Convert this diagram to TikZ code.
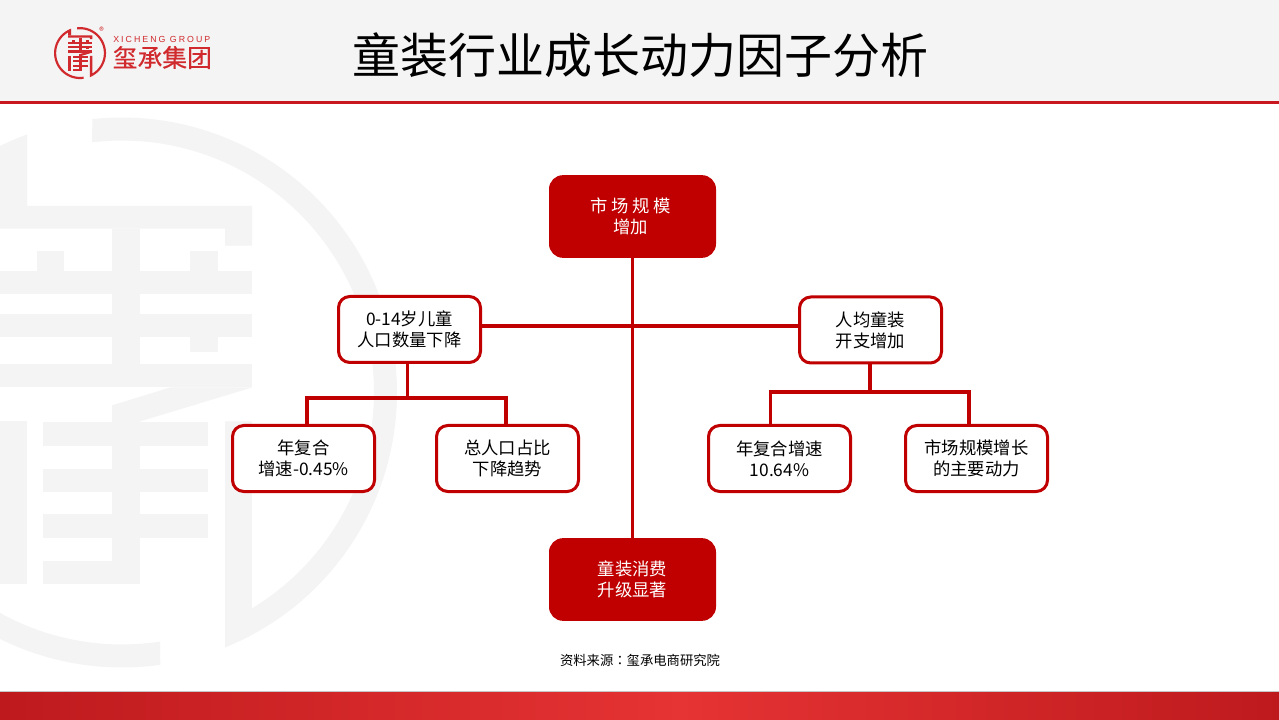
\documentclass[tikz,border=0pt]{standalone}
\usepackage{fontspec}
\setmainfont{Noto Sans CJK SC}
\newfontfamily\logolat[LetterSpace=23]{Liberation Sans}
\newfontfamily\logocjk[FakeBold=0.5]{Noto Sans CJK SC}
\newfontfamily\colonfont{Noto Sans CJK TC}
\usetikzlibrary{calc}
\definecolor{brandred}{HTML}{C00000}
\definecolor{wmgray}{HTML}{F4F4F4}
\definecolor{logored}{HTML}{D12A2E}
\definecolor{rulered}{HTML}{C8171E}
\definecolor{footdark}{HTML}{BE1A1E}
\definecolor{footlight}{HTML}{E63333}
\newcommand\xcemblem[1]{%
  \fill[#1] plot[domain=-96.2:68,samples=90] ({122+275*cos(\x)},{392.5+275*sin(\x)})
    -- (225,421.4) -- (252,421.4)
    -- plot[domain=59:-96.8,samples=90] ({122+252*cos(\x)},{392.5+252*sin(\x)}) -- cycle;
  \fill[#1] plot[domain=82:249.8,samples=90] ({122+275*cos(\x)},{392.5+275*sin(\x)})
    -- (27,206) -- (-5,206)
    -- plot[domain=239.8:81.3,samples=90] ({122+252*cos(\x)},{392.5+252*sin(\x)}) -- cycle;
  \fill[#1] (-5,206) -- (252,206) -- (252,245.7) -- (225,245.7) -- (225,228.6) -- (-5,228.6) -- cycle;
  \fill[#1] (112,228.6) rectangle (140,364.3);
  \fill[#1] (-5,271.4) rectangle (252,294);
  \fill[#1] (37,250.7) rectangle (64,271.4);
  \fill[#1] (190,250.7) rectangle (218,271.4);
  \fill[#1] (-5,313.6) rectangle (252,336.8);
  \fill[#1] (190,336.8) rectangle (218,352.5);
  \fill[#1] (-5,364.3) rectangle (252,387.5);
  \fill[#1] (170,387.5) -- (252,387.5) -- (140,421.4) -- (112,421.4) -- (112,405.4) -- cycle;
  \fill[#1] (112,405.4) rectangle (140,584);
  \fill[#1] (43,422.5) rectangle (208,445.7);
  \fill[#1] (43,469) rectangle (208,492);
  \fill[#1] (43,514) rectangle (208,537.5);
  \fill[#1] (43,560.7) rectangle (140,584);
  \fill[#1] (-5,421.4) rectangle (27,584);
}
\tikzset{
  x=0.75pt,y=-0.75pt,
  solidbox/.style={fill=brandred,rounded corners=10.5pt,minimum width=125.25pt,minimum height=62pt,inner sep=0pt,
    text=white,align=center,font=\fontsize{13}{15.6}\selectfont},
  linebox/.style={draw=brandred,line width=2.25pt,fill=white,rounded corners=8.5pt,minimum width=106.5pt,minimum height=49.5pt,inner sep=0pt,
    text=black,align=center,font=\fontsize{13}{15.6}\selectfont},
  link/.style={draw=brandred,line width=2.4pt},
  headline/.style={font=\fontsize{36}{40}\selectfont,text=black,inner sep=0pt},
  srcnote/.style={font=\fontsize{10}{12}\selectfont,text=black,inner sep=0pt},
}
\begin{document}
\begin{tikzpicture}
\useasboundingbox (0,0) rectangle (1279,720);
\fill[white] (0,0) rectangle (1279,720);
% watermark
\begin{scope}
\clip (0,103) rectangle (1279,692);
\xcemblem{wmgray}
\end{scope}
% header
\fill[wmgray] (0,0) rectangle (1279,101);
\fill[rulered] (0,100.7) rectangle (1279,103.7);
% footer
\fill[gray!45] (0,691) rectangle (1279,692);
\fill[left color=footdark,right color=footlight] (0,692) rectangle (680,720);
\fill[left color=footlight,right color=footdark] (680,692) rectangle (1279,720);
% logo
\begin{scope}[shift={(68.5,16)},scale=0.0945]
\xcemblem{logored}
\end{scope}
\node[text=logored,inner sep=0pt,font=\fontsize{7}{8}\selectfont] (regmark) at (101.5,30.5) {®};
\node[text=logored,inner sep=0pt,anchor=west,font=\logolat\fontsize{6.6}{8}\selectfont] (logoen) at (113,39) {XICHENG GROUP};
\node[text=logored,inner sep=0pt,anchor=west,font=\logocjk\fontsize{18.6}{20}\selectfont] (logocn) at (112.5,57.5) {玺承集团};
% title
\node[headline] (title) at (640.5,55) {童装行业成长动力因子分析};
% nodes
\node[solidbox] (top) at (632.5,216.5) {市 场 规 模\hspace*{3pt}\\增加\hspace*{3pt}};
\node[solidbox] (bottom) at (632.5,579.5) {童装消费\\升级显著};
\node[linebox] (lmid) at (409.5,329.5) {0-14岁儿童\\人口数量下降};
\node[linebox] (rmid) at (870.5,330) {人均童装\\开支增加};
\node[linebox] (la) at (303.5,458.5) {年复合\\增速-0.45\%};
\node[linebox] (lb) at (507.5,458.5) {总人口占比\\下降趋势};
\node[linebox] (ra) at (779.5,458.5) {年复合增速\\10.64\%};
\node[linebox] (rb) at (976.5,458.5) {市场规模增长\\的主要动力};
\node[srcnote] (src) at (640,660) {资料来源{\colonfont：}玺承电商研究院};
% connector anchors
\coordinate (hy) at (0,326);
\coordinate (lj) at (407.7,398);
\coordinate (la1) at (307,398);
\coordinate (lb1) at (506,398);
\coordinate (rj) at (870,392);
\coordinate (ra1) at (770.7,392);
\coordinate (rb1) at (969,392);
% connectors
\draw[link] (top.south) -- (bottom.north);
\draw[link] (lmid.east |- hy) -- (rmid.west |- hy);
\draw[link] (lmid.south -| lj) -- (lj);
\draw[link,line cap=rect] (la1) -- (lb1);
\draw[link] (la1) -- (la.north -| la1);
\draw[link] (lb1) -- (lb.north -| lb1);
\draw[link] (rmid.south -| rj) -- (rj);
\draw[link,line cap=rect] (ra1) -- (rb1);
\draw[link] (ra1) -- (ra.north -| ra1);
\draw[link] (rb1) -- (rb.north -| rb1);
\end{tikzpicture}
\end{document}
